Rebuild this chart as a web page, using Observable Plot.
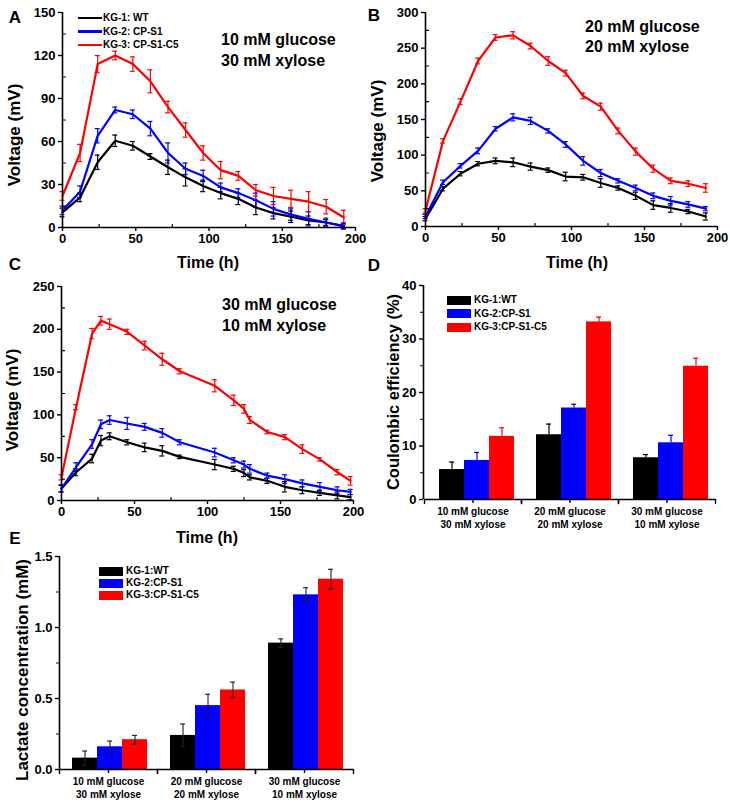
<!DOCTYPE html>
<html><head><meta charset="utf-8">
<script src="https://cdn.jsdelivr.net/npm/d3@7"></script>
<script src="https://cdn.jsdelivr.net/npm/@observablehq/plot@0.6"></script>
<style>
body{margin:0;background:#fff;}
#fig{position:relative;width:730px;height:804px;background:#fff;font-family:"Liberation Sans",Arial,sans-serif;font-weight:bold;color:#000;overflow:hidden;}
.abs{position:absolute;white-space:nowrap;line-height:1;}
.panel{position:absolute;}
</style></head><body><div id="fig"></div>
<script>
// ---------- data ----------
const strainsLine = ["KG-1: WT", "KG-2: CP-S1", "KG-3: CP-S1-C5"];
const strainsBar = ["KG-1:WT", "KG-2:CP-S1", "KG-3:CP-S1-C5"];
const strainColors = ["#000000", "#0000ff", "#ff0000"];
const conditionLabels = ["10 mM glucose\n30 mM xylose", "20 mM glucose\n20 mM xylose", "30 mM glucose\n10 mM xylose"];

// tick values
const timeTicks = [0, 50, 100, 150, 200];
const timeMinor = [25, 75, 125, 175];
const yTicksA = [0, 30, 60, 90, 120, 150];
const yTicksB = [0, 50, 100, 150, 200, 250, 300];
const yTicksC = [0, 50, 100, 150, 200, 250];
const yTicksD = [0, 10, 20, 30, 40];
const yTicksE = [0, 0.5, 1.0, 1.5];

// Panel A: 10 mM glucose / 30 mM xylose
const timeA = [0,12,24,36,48,60,72,84,96,108,120,132,144,156,168,180,192];
const aWT    = [10.5,21,45.5,60.5,57,49.5,42,35,29,24,20,14,10,7.5,5,3.5,1];
const aWTErr = [3,3,5,4,3,2,5,6,4,4,4,5,4,4,3,2,2];
const aS1    = [12,25,64,82,79,69,52,41,36,28,24,19,13,9,6,3.5,1];
const aS1Err = [3,4,5,2,3,5,7,4,4,3,3,5,5,4,5,3,2];
const aC5    = [22,52,114,120,114,102,84,68,52,40,36,26,22,20,18,14.5,7];
const aC5Err = [3,6,6,3,5,8,4,5,5,6,3,4,6,6,7,5,5];

// Panel B: 20 mM glucose / 20 mM xylose
const timeB = [0,12,24,36,48,60,72,84,96,108,120,132,144,156,168,180,192];
const bWT    = [11,53,74,88,92,90,84,79,70,69,61,54,43,30,26,21,14];
const bWTErr = [3,3,3,3,4,6,5,3,6,4,6,3,5,6,6,3,5];
const bS1    = [14,62,85,106,137,153,148,134,115,92,75,64,54,43,36,31,25];
const bS1Err = [3,3,3,4,3,5,5,3,4,6,5,3,4,4,6,4,3];
const bC5    = [22,120,175,232,265,268,253,232,215,183,168,134,105,81,64,60,54];
const bC5Err = [3,3,4,4,4,5,4,6,4,4,5,4,5,5,4,4,6];

// Panel C: 30 mM glucose / 10 mM xylose
const timeC = [0,10,21,27,33,45,57,69,81,105,118,125,129,141,153,165,177,189,198];
const cWT    = [14,33,49,70,75,68,62,58,51,42,37,32,27,23,16,12,9,6,4];
const cWTErr = [4,4,5,6,4,3,5,6,2,6,3,4,3,3,6,4,3,4,3];
const cS1    = [14,39,66,89,94,90,86,79,68,56,47,42,37,29,25,20,16,12,10];
const cS1Err = [4,5,5,5,5,7,4,5,3,5,3,4,5,3,5,4,5,4,3];
const cC5    = [27,109,195,210,206,197,181,165,151,134,117,107,94,80,74,60,48,33,23];
const cC5Err = [3,3,6,5,6,3,5,7,3,7,6,5,4,2,3,5,2,3,5];

// Panel D: Coulombic efficiency (%)
const dWT = [5.6, 12.1, 7.8];   const dWTErr = [1.4, 2.0, 0.6];
const dS1 = [7.3, 17.1, 10.6];  const dS1Err = [1.5, 0.7, 1.4];
const dC5 = [11.8, 33.2, 24.9]; const dC5Err = [1.6, 0.9, 1.5];

// Panel E: Lactate concentration (mM)
const eWT = [0.08, 0.24, 0.89]; const eWTErr = [0.05, 0.08, 0.03];
const eS1 = [0.16, 0.45, 1.23]; const eS1Err = [0.04, 0.08, 0.05];
const eC5 = [0.21, 0.56, 1.34]; const eC5Err = [0.03, 0.055, 0.07];

// ---------- helpers ----------
const fig = document.getElementById("fig");
const FONT = "'Liberation Sans', Arial, sans-serif";
const tickShape = {draw(context, l) { context.moveTo(0, 0); context.lineTo(0, -l); }};
const baseStyle = {fontFamily: FONT, fontWeight: "bold", fontSize: "13px", color: "#000", background: "transparent", overflow: "visible"};
const midpoints = t => d3.pairs(t, (a, b) => (a + b) / 2);

function place(node, left, top) {
  const d = document.createElement("div");
  d.className = "panel";
  d.style.left = left + "px"; d.style.top = top + "px";
  d.appendChild(node); fig.appendChild(d);
}
function label(text, x, y, {size = 16, rotate = 0, align = "center"} = {}) {
  const d = document.createElement("div");
  d.className = "abs";
  d.textContent = text;
  d.style.fontSize = size + "px";
  d.style.left = x + "px"; d.style.top = y + "px";
  d.style.transform = (align === "center" ? "translate(-50%,-50%)" : "translate(0,-50%)") + (rotate ? ` rotate(${rotate}deg)` : "");
  fig.appendChild(d);
}
function legend(items, x, y0, dy, kind) {
  items.forEach((name, i) => {
    const row = document.createElement("div");
    row.className = "abs";
    row.style.left = x + "px"; row.style.top = (y0 + i * dy) + "px";
    row.style.transform = "translate(0,-50%)";
    row.style.fontSize = "10px";
    row.style.display = "flex"; row.style.alignItems = "center";
    const sw = document.createElement("span");
    sw.style.display = "inline-block";
    sw.style.width = "24px";
    sw.style.height = kind === "line" ? "2.5px" : "9px";
    sw.style.background = strainColors[i];
    sw.style.marginRight = kind === "line" ? "1px" : "3px";
    row.appendChild(sw);
    row.appendChild(document.createTextNode(name));
    fig.appendChild(row);
  });
}

function linePanel(cfg) {
  const rows = [];
  cfg.series.forEach(([vals, errs], k) => vals.forEach((v, i) =>
    rows.push({t: cfg.time[i], v, e: errs[i], s: strainsLine[k]})));
  const yMax = d3.max(cfg.yTicks);
  const lo = d => d.v - d.e, hi = d => d.v + d.e;
  const svg = Plot.plot({
    width: cfg.w, height: cfg.h,
    marginLeft: cfg.ml, marginRight: cfg.mr, marginTop: cfg.mt, marginBottom: cfg.mb,
    x: {domain: [0, d3.max(timeTicks)]},
    y: {domain: [0, yMax]},
    color: {domain: strainsLine, range: strainColors},
    style: baseStyle,
    marks: [
      Plot.ruleX(rows, {x: "t", y1: lo, y2: hi, stroke: "s", strokeWidth: 1.2}),
      Plot.ruleY(rows, {y: hi, x1: "t", x2: "t", stroke: "s", strokeWidth: 1.2, insetLeft: -2.5, insetRight: -2.5}),
      Plot.ruleY(rows, {y: lo, x1: "t", x2: "t", stroke: "s", strokeWidth: 1.2, insetLeft: -2.5, insetRight: -2.5}),
      Plot.line(rows, {x: "t", y: "v", z: "s", stroke: "s", strokeWidth: 2.2}),
      Plot.ruleX([0], {strokeWidth: 1.6}),
      Plot.ruleY([0], {strokeWidth: 1.6}),
      Plot.axisX(timeTicks, {tickSize: 4, tickPadding: 2, label: null, strokeWidth: 1.4}),
      Plot.axisY(cfg.yTicks, {tickSize: 4, tickPadding: 3, label: null, strokeWidth: 1.4}),
      Plot.vector(timeMinor, {x: d => d, frameAnchor: "bottom", length: 3, rotate: 0, anchor: "start", shape: tickShape, stroke: "#000", strokeWidth: 1.2}),
      Plot.vector(midpoints(cfg.yTicks), {y: d => d, frameAnchor: "left", length: 3, rotate: 90, anchor: "start", shape: tickShape, stroke: "#000", strokeWidth: 1.2})
    ]
  });
  place(svg, cfg.left, cfg.top);
}

function barPanel(cfg) {
  const rows = [];
  cfg.series.forEach(([vals, errs], k) => vals.forEach((v, i) =>
    rows.push({c: conditionLabels[i], v, e: errs[i], s: strainsBar[k]})));
  const yMax = d3.max(cfg.yTicks);
  const hi = d => d.v + d.e, lo = d => d.v - d.e;
  const errMarks = cfg.upOnly ? [
    Plot.ruleX(rows, {fx: "c", x: "s", y1: "v", y2: hi, stroke: "s", strokeWidth: 1.2}),
    Plot.tickY(rows, {fx: "c", x: "s", y: hi, stroke: "s", strokeWidth: 1.2, insetLeft: 10, insetRight: 10})
  ] : [
    Plot.ruleX(rows, {fx: "c", x: "s", y1: lo, y2: hi, stroke: "#222", strokeWidth: 1.1}),
    Plot.tickY(rows, {fx: "c", x: "s", y: hi, stroke: "#222", strokeWidth: 1.1, insetLeft: 10, insetRight: 10}),
    Plot.tickY(rows, {fx: "c", x: "s", y: lo, stroke: "#222", strokeWidth: 1.1, insetLeft: 10, insetRight: 10})
  ];
  const dims = {width: cfg.w, height: cfg.h, marginLeft: cfg.ml, marginRight: cfg.mr, marginTop: cfg.mt, marginBottom: cfg.mb};
  // bars, error bars and the category axis (faceted by condition)
  const bars = Plot.plot({
    ...dims,
    fx: {domain: conditionLabels, paddingInner: 0, paddingOuter: 0, label: null},
    x: {domain: strainsBar, paddingInner: 0, paddingOuter: cfg.padOuter, align: cfg.align, axis: null},
    y: {domain: [0, yMax], axis: null},
    color: {domain: strainsBar, range: strainColors},
    style: baseStyle,
    marks: [
      Plot.barY(rows, {fx: "c", x: "s", y: "v", fill: "s"}),
      ...errMarks,
      Plot.ruleY([0], {strokeWidth: 1.6}),
      Plot.axisFx({anchor: "bottom", tickSize: 4, tickPadding: 3, label: null, fontSize: 10, lineHeight: 1.25, strokeWidth: 1.4}),
      Plot.vector([0], {frameAnchor: "bottom-left", length: 4, rotate: 180, anchor: "start", shape: tickShape, stroke: "#000", strokeWidth: 1.4}),
      Plot.vector([0], {frameAnchor: "bottom-right", length: 4, rotate: 180, anchor: "start", shape: tickShape, stroke: "#000", strokeWidth: 1.4})
    ]
  });
  place(bars, cfg.left, cfg.top);
  // value axis (same frame, no facets)
  const axis = Plot.plot({
    ...dims,
    x: {domain: [0, 1], axis: null},
    y: {domain: [0, yMax], axis: null},
    style: baseStyle,
    marks: [
      Plot.ruleX([0], {y1: 0, y2: yMax, stroke: "#000", strokeWidth: 1.6}),
      Plot.axisY(cfg.yTicks, {tickSize: 4, tickPadding: 3, label: null, strokeWidth: 1.4, tickFormat: cfg.yFormat}),
      Plot.vector(midpoints(cfg.yTicks), {y: d => d, frameAnchor: "left", length: 3, rotate: 270, anchor: "start", shape: tickShape, stroke: "#000", strokeWidth: 1.2})
    ]
  });
  place(axis, cfg.left, cfg.top);
}

// ---------- panels ----------
linePanel({left: 0, top: 0, w: 365, h: 270, ml: 62, mr: 10, mt: 12, mb: 43, yTicks: yTicksA, time: timeA,
  series: [[aWT, aWTErr], [aS1, aS1Err], [aC5, aC5Err]]});
linePanel({left: 365, top: 0, w: 365, h: 270, ml: 60, mr: 13, mt: 12, mb: 44, yTicks: yTicksB, time: timeB,
  series: [[bWT, bWTErr], [bS1, bS1Err], [bC5, bC5Err]]});
linePanel({left: 0, top: 260, w: 365, h: 280, ml: 61, mr: 12, mt: 26, mb: 40, yTicks: yTicksC, time: timeC,
  series: [[cWT, cWTErr], [cS1, cS1Err], [cC5, cC5Err]]});
barPanel({left: 365, top: 260, w: 365, h: 280, ml: 58, mr: 15, mt: 25, mb: 41, yTicks: yTicksD,
  padOuter: 0.37, align: 0.67, upOnly: true, yFormat: d3.format("d"),
  series: [[dWT, dWTErr], [dS1, dS1Err], [dC5, dC5Err]]});
barPanel({left: 0, top: 530, w: 365, h: 274, ml: 59, mr: 12, mt: 26, mb: 35, yTicks: yTicksE,
  padOuter: 0.41, align: 0.57, upOnly: false, yFormat: d3.format(".1f"),
  series: [[eWT, eWTErr], [eS1, eS1Err], [eC5, eC5Err]]});

// ---------- texts ----------
label("A", 15, 17, {size: 17}); label("B", 374, 15, {size: 17});
label("C", 15, 264, {size: 17}); label("D", 374, 265, {size: 17});
label("E", 15, 538, {size: 17});

label("Time (h)", 208, 263, {size: 16});
label("Time (h)", 577, 263, {size: 16});
label("Time (h)", 207, 538, {size: 16});

label("Voltage (mV)", 14, 135, {size: 17, rotate: -90});
label("Voltage (mV)", 377, 131, {size: 17, rotate: -90});
label("Voltage (mV)", 12, 400, {size: 17, rotate: -90});
label("Coulombic efficiency (%)", 393, 392, {size: 16.5, rotate: -90});
label("Lactate concentration (mM)", 22, 670, {size: 17, rotate: -90});

label("10 mM glucose", 221, 40, {size: 16, align: "left"});
label("30 mM xylose", 221, 61, {size: 16, align: "left"});
label("20 mM glucose", 585, 27, {size: 16, align: "left"});
label("20 mM xylose", 585, 47, {size: 16, align: "left"});
label("30 mM glucose", 222, 305, {size: 16, align: "left"});
label("10 mM xylose", 222, 326, {size: 16, align: "left"});

legend(strainsLine, 78, 18, 13.5, "line");
legend(strainsBar, 447, 300, 13.5, "rect");
legend(strainsBar, 99, 571, 12, "rect");
</script></body></html>
